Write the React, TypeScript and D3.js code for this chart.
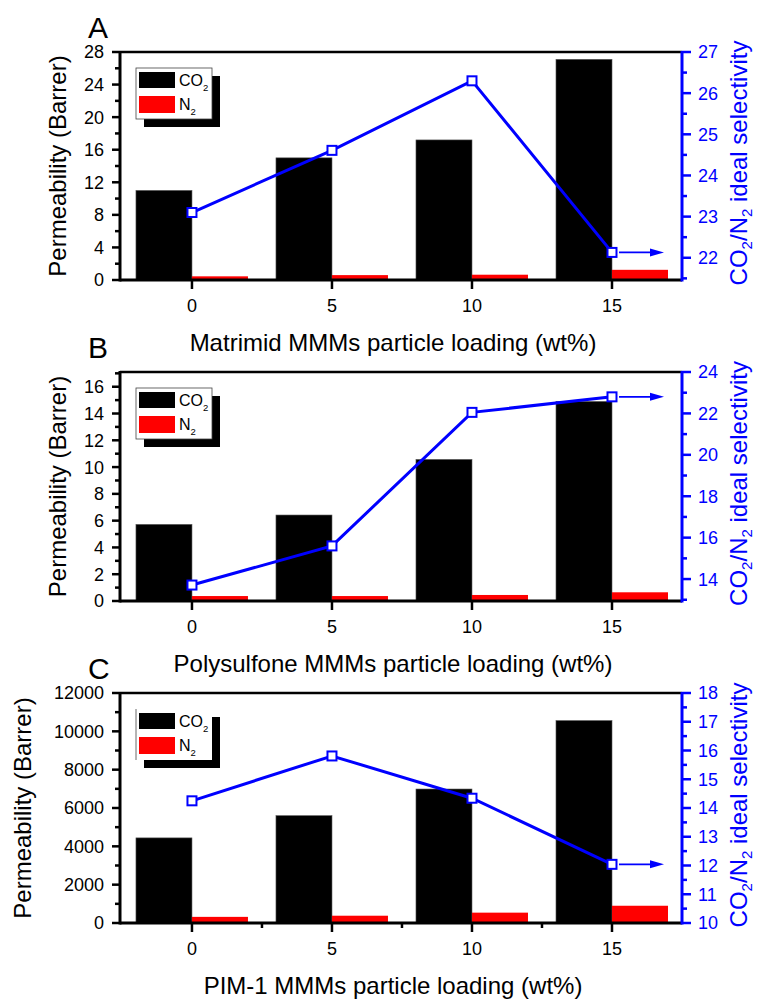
import React from "react";
import * as d3 from "d3";

// ---------- data ----------
const loadings = ["0", "5", "10", "15"];

const matrimidCO2 = [11.0, 15.0, 17.2, 27.1];
const matrimidN2 = [0.45, 0.6, 0.65, 1.25];
const matrimidSel = [23.1, 24.61, 26.3, 22.13];

const polysulfoneCO2 = [5.72, 6.42, 10.57, 14.9];
const polysulfoneN2 = [0.37, 0.37, 0.45, 0.65];
const polysulfoneSel = [13.71, 15.6, 22.05, 22.8];

const pimCO2 = [4440, 5600, 6990, 10560];
const pimN2 = [320, 380, 540, 900];
const pimSel = [14.25, 15.81, 14.34, 12.04];

const leftTicksA = [0, 4, 8, 12, 16, 20, 24, 28];
const leftTicksB = [0, 2, 4, 6, 8, 10, 12, 14, 16];
const leftTicksC = [0, 2000, 4000, 6000, 8000, 10000, 12000];
const rightTicksA = [22, 23, 24, 25, 26, 27];
const rightTicksB = [14, 16, 18, 20, 22, 24];
const rightTicksC = [10, 11, 12, 13, 14, 15, 16, 17, 18];

const titles = [
  "Matrimid MMMs particle loading (wt%)",
  "Polysulfone MMMs particle loading (wt%)",
  "PIM-1 MMMs particle loading (wt%)",
];

const FONT = "Arial, 'Liberation Sans', sans-serif";
const BLUE = "#0000ff";

type PanelProps = {
  letter: string;
  top: number;
  bottom: number;
  co2: number[];
  n2: number[];
  sel: number[];
  leftDomain: [number, number];
  leftTicks: number[];
  leftMinorStep: number;
  rightDomain: [number, number];
  rightTicks: number[];
  rightMinorStep: number;
  title: string;
  leftTitleX: number;
  xMinor: boolean;
  legendFrame: boolean;
};

function Panel(p: PanelProps) {
  const left = 120;
  const right = 682;
  const x = d3.scaleLinear().domain([-0.514, 3.5]).range([left, right]);
  const y = d3.scaleLinear().domain(p.leftDomain).range([p.bottom, p.top]);
  const yr = d3.scaleLinear().domain(p.rightDomain).range([p.bottom, p.top]);
  const bw = 0.4;

  const leftMinor = d3
    .range(p.leftDomain[0], p.leftDomain[1] + 1e-9, p.leftMinorStep)
    .filter((v) => !p.leftTicks.some((t) => Math.abs(t - v) < 1e-6));
  const rStart = Math.ceil(p.rightDomain[0] / p.rightMinorStep) * p.rightMinorStep;
  const rightMinor = d3
    .range(rStart, p.rightDomain[1] + 1e-9, p.rightMinorStep)
    .filter((v) => !p.rightTicks.some((t) => Math.abs(t - v) < 1e-6));

  const line = d3
    .line<number>()
    .x((_, i) => x(i))
    .y((d) => yr(d));

  const last = p.sel.length - 1;
  const ax = x(last);
  const ay = yr(p.sel[last]);
  const mid = (p.top + p.bottom) / 2;

  const lgX = left + 16;
  const lgY = p.top + 16;

  return (
    <g fontFamily={FONT}>
      {/* panel letter */}
      <text x={88} y={p.top - 14} fontSize={30}>
        {p.letter}
      </text>

      {/* bars */}
      {p.co2.map((v, i) => (
        <rect
          key={"c" + i}
          x={x(i - bw)}
          y={y(v)}
          width={x(i) - x(i - bw)}
          height={p.bottom - y(v)}
          fill="#000"
          stroke="#555"
          strokeWidth={0.6}
        />
      ))}
      {p.n2.map((v, i) => (
        <rect
          key={"n" + i}
          x={x(i)}
          y={y(v)}
          width={x(i + bw) - x(i)}
          height={p.bottom - y(v)}
          fill="#ff0000"
        />
      ))}

      {/* legend */}
      <rect x={lgX + 8} y={lgY + 8} width={76} height={51} fill="#000" />
      <rect x={lgX} y={lgY} width={76} height={51} fill="#fff" />
      {p.legendFrame ? (
        <rect x={lgX} y={lgY} width={76} height={51} fill="none" stroke="#444" strokeWidth={0.8} />
      ) : (
        <line x1={lgX} x2={lgX} y1={lgY} y2={lgY + 51} stroke="#444" strokeWidth={0.8} />
      )}
      <rect x={lgX + 3} y={lgY + 4} width={36} height={16} fill="#000" />
      <rect x={lgX + 3} y={lgY + 28} width={36} height={17} fill="#ff0000" />
      <text x={lgX + 43} y={lgY + 18} fontSize={16}>
        CO<tspan fontSize={9.5} dy={5}>2</tspan>
      </text>
      <text x={lgX + 43} y={lgY + 42} fontSize={16}>
        N<tspan fontSize={9.5} dy={5}>2</tspan>
      </text>

      {/* selectivity line */}
      <path d={line(p.sel) || ""} fill="none" stroke={BLUE} strokeWidth={3} />
      {p.sel.map((v, i) => (
        <rect
          key={"m" + i}
          x={x(i) - 4.5}
          y={yr(v) - 4.5}
          width={9}
          height={9}
          fill="#fff"
          stroke={BLUE}
          strokeWidth={2}
        />
      ))}
      {/* arrow */}
      <line x1={ax + 7} x2={ax + 40} y1={ay} y2={ay} stroke={BLUE} strokeWidth={1.8} />
      <polygon
        points={`${ax + 52},${ay} ${ax + 38},${ay - 4} ${ax + 38},${ay + 4}`}
        fill={BLUE}
      />

      {/* top frame */}
      <line x1={left} x2={right} y1={p.top} y2={p.top} stroke="#000" strokeWidth={2.5} />

      {/* left axis */}
      <line x1={left} x2={left} y1={p.top - 1} y2={p.bottom + 1.5} stroke="#000" strokeWidth={3} />
      {p.leftTicks.map((t) => (
        <g key={"lt" + t}>
          <line x1={left - 8} x2={left} y1={y(t)} y2={y(t)} stroke="#000" strokeWidth={2.5} />
          <text x={left - 16} y={y(t)} dy="0.36em" textAnchor="end" fontSize={18}>
            {t}
          </text>
        </g>
      ))}
      {leftMinor.map((t) => (
        <line key={"lm" + t} x1={left - 5} x2={left} y1={y(t)} y2={y(t)} stroke="#000" strokeWidth={2.5} />
      ))}

      {/* bottom axis */}
      <line x1={left} x2={right} y1={p.bottom} y2={p.bottom} stroke="#000" strokeWidth={3} />
      {loadings.map((l, i) => (
        <g key={"xt" + l}>
          <line x1={x(i)} x2={x(i)} y1={p.bottom} y2={p.bottom + 9} stroke="#000" strokeWidth={2.5} />
          <text x={x(i)} y={p.bottom + 32} textAnchor="middle" fontSize={18}>
            {l}
          </text>
        </g>
      ))}
      {p.xMinor &&
        [0.5, 1.5, 2.5].map((v) => (
          <line key={"xm" + v} x1={x(v)} x2={x(v)} y1={p.bottom} y2={p.bottom + 5} stroke="#000" strokeWidth={2.5} />
        ))}

      {/* right axis */}
      <line x1={right} x2={right} y1={p.top - 1} y2={p.bottom + 1.5} stroke={BLUE} strokeWidth={3} />
      {p.rightTicks.map((t) => (
        <g key={"rt" + t}>
          <line x1={right} x2={right + 9} y1={yr(t)} y2={yr(t)} stroke={BLUE} strokeWidth={2.5} />
          <text x={right + 16} y={yr(t)} dy="0.36em" fontSize={18} fill={BLUE}>
            {t}
          </text>
        </g>
      ))}
      {rightMinor.map((t) => (
        <line key={"rm" + t} x1={right} x2={right + 5} y1={yr(t)} y2={yr(t)} stroke={BLUE} strokeWidth={2.5} />
      ))}

      {/* axis titles */}
      <text x={393} y={p.bottom + 71} textAnchor="middle" fontSize={24}>
        {p.title}
      </text>
      <text
        transform={`translate(${p.leftTitleX},${mid}) rotate(-90)`}
        textAnchor="middle"
        fontSize={24}
      >
        Permeability (Barrer)
      </text>
      <text
        transform={`translate(747,${mid - 3}) rotate(-90)`}
        textAnchor="middle"
        fontSize={24}
        fill={BLUE}
      >
        CO<tspan fontSize={15} dy={5}>2</tspan>
        <tspan dy={-5}>/N</tspan>
        <tspan fontSize={15} dy={5}>2</tspan>
        <tspan dy={-5}> ideal selectivity</tspan>
      </text>
    </g>
  );
}

export default function App() {
  return (
    <svg
      width={757}
      height={1001}
      style={{ position: "absolute", left: 0, top: 0, background: "#fff" }}
    >
      <rect width={757} height={1001} fill="#fff" />
      <Panel
        letter="A"
        top={52}
        bottom={280}
        co2={matrimidCO2}
        n2={matrimidN2}
        sel={matrimidSel}
        leftDomain={[0, 28]}
        leftTicks={leftTicksA}
        leftMinorStep={2}
        rightDomain={[21.46, 27]}
        rightTicks={rightTicksA}
        rightMinorStep={0.5}
        title={titles[0]}
        leftTitleX={66}
        xMinor={false}
        legendFrame={true}
      />
      <Panel
        letter="B"
        top={372}
        bottom={601}
        co2={polysulfoneCO2}
        n2={polysulfoneN2}
        sel={polysulfoneSel}
        leftDomain={[0, 17.1]}
        leftTicks={leftTicksB}
        leftMinorStep={1}
        rightDomain={[12.94, 24]}
        rightTicks={rightTicksB}
        rightMinorStep={1}
        title={titles[1]}
        leftTitleX={66}
        xMinor={false}
        legendFrame={true}
      />
      <Panel
        letter="C"
        top={693}
        bottom={923}
        co2={pimCO2}
        n2={pimN2}
        sel={pimSel}
        leftDomain={[0, 12000]}
        leftTicks={leftTicksC}
        leftMinorStep={1000}
        rightDomain={[10, 18]}
        rightTicks={rightTicksC}
        rightMinorStep={0.5}
        title={titles[2]}
        leftTitleX={31}
        xMinor={true}
        legendFrame={false}
      />
    </svg>
  );
}
